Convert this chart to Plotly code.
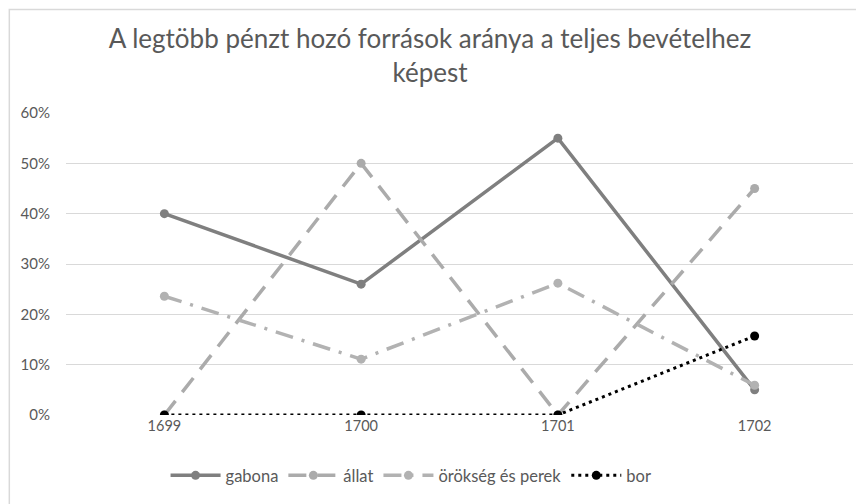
import plotly.graph_objects as go

years = ["1699", "1700", "1701", "1702"]
gabona = [0.40, 0.26, 0.55, 0.05]
allat = [0.0, 0.50, 0.0, 0.45]
orokseg = [0.236, 0.111, 0.262, 0.059]
bor = [0.0, 0.0, 0.0, 0.157]
y_ticks = [0, 0.1, 0.2, 0.3, 0.4, 0.5, 0.6]

FONT = "Lato, Open Sans, sans-serif"

W, H = 856, 496
L, R, T, B = 57.5, 10.5, 105, 87
PH = H - T - B
PW = W - L - R

fig = go.Figure()
fig.add_trace(go.Scatter(x=years, y=gabona, name="gabona", mode="lines+markers",
                         line=dict(color="#7f7f7f", width=3.5, dash="solid"),
                         marker=dict(size=9, color="#7f7f7f")))
fig.add_trace(go.Scatter(x=years, y=allat, name="állat", mode="lines+markers",
                         line=dict(color="#ababab", width=3.5, dash="18px,11px"),
                         marker=dict(size=9, color="#ababab")))
fig.add_trace(go.Scatter(x=years, y=orokseg, name="örökség és perek", mode="lines+markers",
                         line=dict(color="#b2b2b2", width=3.5, dash="18px,9px,3px,9px"),
                         marker=dict(size=9, color="#b2b2b2")))
fig.add_trace(go.Scatter(x=years, y=bor, name="bor", mode="lines+markers",
                         line=dict(color="#000000", width=3, dash="3px,4px"),
                         marker=dict(size=9, color="#000000")))

fig.update_layout(
    width=W, height=H,
    margin=dict(l=L, r=R, t=T, b=B),
    paper_bgcolor="white", plot_bgcolor="white",
    font=dict(family=FONT, color="#595959"),
    title=dict(text="A legtöbb pénzt hozó források aránya a teljes bevételhez<br>képest",
               x=(430 - 8) / W, xanchor="center", y=1 - 40 / H, yanchor="top",
               font=dict(size=26, color="#595959", family=FONT)),
    xaxis=dict(type="category", range=[-0.5, 3.5], showgrid=False, zeroline=False,
               showline=False, ticks="", tickfont=dict(size=14.5, color="#595959")),
    yaxis=dict(range=[0, 0.6], tickvals=y_ticks, tickformat=".0%", showgrid=True,
               gridcolor="#d9d9d9", gridwidth=1, zeroline=False, showline=False,
               ticks="", ticklabelstandoff=15,
               tickfont=dict(size=15, color="#595959")),
    legend=dict(orientation="h", x=(411 - 65.5) / PW, xanchor="center",
                y=-61 / PH, yanchor="middle", itemwidth=50,
                font=dict(size=16.5, color="#595959")),
    shapes=[dict(type="rect", xref="paper", yref="paper",
                 x0=(0.75 - L) / PW, x1=(W + 30 - L) / PW,
                 y0=-(B + 30) / PH, y1=(PH + T - 0.75) / PH,
                 line=dict(color="#d9d9d9", width=1.5), layer="below")],
)

fig.write_html("out.html")
